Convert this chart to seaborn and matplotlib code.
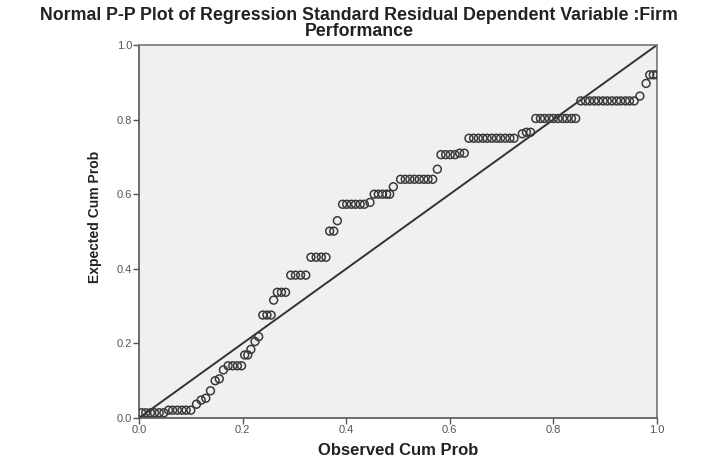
import matplotlib
matplotlib.use("Agg")
import matplotlib.pyplot as plt
import seaborn as sns
import pandas as pd

# observed vs expected cumulative probabilities
observed = [
    0.005, 0.013, 0.022, 0.030, 0.039, 0.048,
    0.057, 0.065, 0.074, 0.083, 0.091, 0.100,
    0.111, 0.120, 0.129, 0.138, 0.147, 0.155, 0.163,
    0.172, 0.181, 0.190, 0.198, 0.204, 0.210, 0.216, 0.224, 0.231,
    0.239, 0.247, 0.255, 0.260, 0.267, 0.275, 0.283,
    0.293, 0.302, 0.312, 0.322,
    0.332, 0.342, 0.352, 0.361,
    0.368, 0.376, 0.383,
    0.393, 0.401, 0.410, 0.418, 0.427, 0.435, 0.446,
    0.454, 0.462, 0.470, 0.478, 0.484, 0.491,
    0.505, 0.514, 0.523, 0.532, 0.541, 0.550, 0.558, 0.567, 0.576,
    0.583, 0.592, 0.601, 0.610, 0.619, 0.628,
    0.637, 0.646, 0.655, 0.664, 0.672, 0.681, 0.690, 0.698, 0.707, 0.716, 0.724,
    0.740, 0.748, 0.756,
    0.766, 0.775, 0.783, 0.792, 0.800, 0.809, 0.818, 0.826, 0.835, 0.843,
    0.853, 0.862, 0.870, 0.879, 0.887, 0.896, 0.904, 0.913, 0.922, 0.930,
    0.939, 0.947, 0.956, 0.967, 0.979, 0.986, 0.993, 1.000,
]
expected = [
    0.014, 0.014, 0.014, 0.014, 0.014, 0.014,
    0.021, 0.021, 0.021, 0.021, 0.021, 0.021,
    0.037, 0.048, 0.053, 0.073, 0.100, 0.105, 0.129,
    0.140, 0.140, 0.140, 0.140, 0.169, 0.169, 0.184, 0.205, 0.218,
    0.276, 0.276, 0.276, 0.316, 0.337, 0.337, 0.337,
    0.383, 0.383, 0.383, 0.383,
    0.431, 0.431, 0.431, 0.431,
    0.501, 0.501, 0.529,
    0.573, 0.573, 0.573, 0.573, 0.573, 0.573, 0.578,
    0.600, 0.600, 0.600, 0.600, 0.600, 0.620,
    0.640, 0.640, 0.640, 0.640, 0.640, 0.640, 0.640, 0.640, 0.667,
    0.706, 0.706, 0.706, 0.706, 0.710, 0.710,
    0.750, 0.750, 0.750, 0.750, 0.750, 0.750, 0.750, 0.750, 0.750, 0.750, 0.750,
    0.762, 0.766, 0.766,
    0.803, 0.803, 0.803, 0.803, 0.803, 0.803, 0.803, 0.803, 0.803, 0.803,
    0.850, 0.850, 0.850, 0.850, 0.850, 0.850, 0.850, 0.850, 0.850, 0.850,
    0.850, 0.850, 0.850, 0.863, 0.897, 0.920, 0.920, 0.920,
]
ticks = [0.0, 0.2, 0.4, 0.6, 0.8, 1.0]
tick_labels = ["0.0", "0.2", "0.4", "0.6", "0.8", "1.0"]

df = pd.DataFrame({"observed": observed, "expected": expected})

sns.set_theme(style="white")
plt.rcParams["font.family"] = ["Liberation Sans", "DejaVu Sans"]

fig = plt.figure(figsize=(7.18, 4.59), dpi=100)
ax = fig.add_axes([0.1936, 0.0893, 0.7214, 0.8127])
ax.set_facecolor("#f0f0f0")

# reference diagonal
ax.plot([0, 1], [0, 1], color="#333333", linewidth=1.4, zorder=2)

sns.scatterplot(data=df, x="observed", y="expected", ax=ax, marker="o", s=32,
                facecolor="none", edgecolor="#3a3a3a", linewidth=1.1, zorder=3)

ax.set_xlim(0, 1)
ax.set_ylim(0, 1)
ax.set_xticks(ticks)
ax.set_xticklabels(tick_labels)
ax.set_yticks(ticks)
ax.set_yticklabels(tick_labels)
ax.tick_params(axis="both", direction="out", length=4, width=1, color="#555555",
               labelsize=8, labelcolor="#555555", pad=1, bottom=True, left=True)

for side in ["left", "bottom", "right", "top"]:
    ax.spines[side].set_color("#777777")
    ax.spines[side].set_linewidth(1.2)
ax.spines["left"].set_color("#555555")
ax.spines["bottom"].set_color("#555555")

ax.set_xlabel("Observed Cum Prob", fontsize=12, fontweight="bold", color="#222222", labelpad=6)
ax.set_ylabel("Expected Cum Prob", fontsize=10, fontweight="bold", color="#222222")
ax.yaxis.set_label_coords(-0.072, 0.54)

fig.text(0.5, 0.984, "Normal P-P Plot of Regression Standard Residual Dependent Variable :Firm\nPerformance",
         ha="center", va="top", fontsize=12.8, fontweight="bold", color="#222222", linespacing=0.9)

fig.savefig("out.png", dpi=100, facecolor="white")
plt.close(fig)
